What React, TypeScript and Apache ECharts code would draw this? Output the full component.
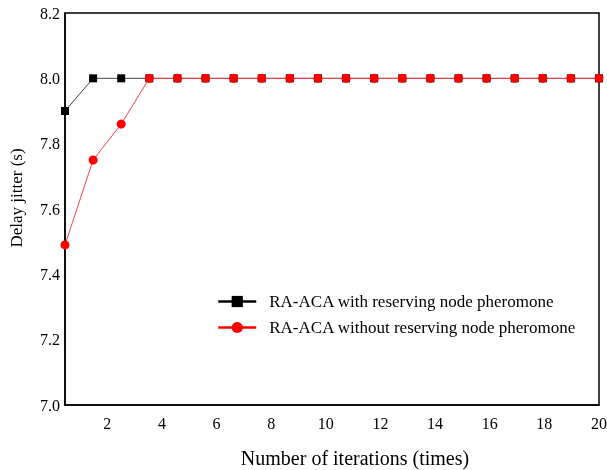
import React, { useEffect, useRef } from "react";
import * as echarts from "echarts";

const iterations = ["1","2","3","4","5","6","7","8","9","10","11","12","13","14","15","16","17","18","19","20"];
const withReserving = [7.9, 8.0, 8.0, 8.0, 8.0, 8.0, 8.0, 8.0, 8.0, 8.0, 8.0, 8.0, 8.0, 8.0, 8.0, 8.0, 8.0, 8.0, 8.0, 8.0];
const withoutReserving = [7.49, 7.75, 7.86, 8.0, 8.0, 8.0, 8.0, 8.0, 8.0, 8.0, 8.0, 8.0, 8.0, 8.0, 8.0, 8.0, 8.0, 8.0, 8.0, 8.0];
const xTickLabels = [2, 4, 6, 8, 10, 12, 14, 16, 18, 20];
const seriesNames = ["RA-ACA with reserving node pheromone", "RA-ACA without reserving node pheromone"];

const FONT = "Liberation Serif";

export default function App() {
  const ref = useRef<HTMLDivElement>(null);
  useEffect(() => {
    if (!ref.current) return;
    const chart = echarts.init(ref.current, null, { renderer: "svg" });
    chart.setOption({
      animation: false,
      grid: {
        left: 65,
        top: 13,
        right: 8,
        bottom: 65,
        outerBoundsMode: "none",
        containLabel: false,
        show: true,
        borderColor: "#000",
        borderWidth: 1.5,
      },
      legend: {
        data: [
          { name: seriesNames[0], lineStyle: { width: 2.5, color: "#000" } },
          { name: seriesNames[1], lineStyle: { width: 2.5, color: "#ff0000" } },
        ],
        orient: "vertical",
        left: 217,
        top: 293,
        padding: 0,
        itemWidth: 38,
        itemHeight: 14,
        itemGap: 9,
        textStyle: { fontFamily: FONT, fontSize: 17, color: "#000", padding: [0, 0, 0, 8] },
      },
      xAxis: [
        {
          type: "category",
          data: iterations,
          boundaryGap: false,
          show: false,
        },
        {
          type: "value",
          min: 0.45,
          max: 20,
          position: "bottom",
          axisLine: { show: true, lineStyle: { color: "#000", width: 1.5 } },
          axisTick: { show: false },
          splitLine: { show: false },
          axisLabel: {
            customValues: xTickLabels,
            fontFamily: FONT,
            fontSize: 16,
            color: "#000",
            margin: 10,
          },
          name: "Number of iterations (times)",
          nameLocation: "middle",
          nameGap: 43,
          nameTextStyle: {
            fontFamily: FONT,
            fontSize: 20,
            lineHeight: 20,
            color: "#000",
            padding: [0, 0, 0, 46],
          },
        },
      ],
      yAxis: {
        type: "value",
        min: 7.0,
        max: 8.2,
        interval: 0.2,
        axisLine: { show: true, lineStyle: { color: "#000", width: 1.5 } },
        axisTick: { show: false },
        splitLine: { show: false },
        axisLabel: {
          fontFamily: FONT,
          fontSize: 16,
          color: "#000",
          margin: 5,
          formatter: (v: number) => v.toFixed(1),
        },
        name: "Delay jitter (s)",
        nameLocation: "middle",
        nameGap: 40,
        nameTextStyle: { fontFamily: FONT, fontSize: 17, color: "#000", padding: [0, 0, 0, 22] },
      },
      series: [
        {
          name: seriesNames[0],
          type: "line",
          xAxisIndex: 0,
          data: withReserving,
          symbol: "rect",
          symbolSize: 8,
          itemStyle: { color: "#000" },
          lineStyle: { color: "#444", width: 1 },
          z: 2,
        },
        {
          name: seriesNames[1],
          type: "line",
          xAxisIndex: 0,
          data: withoutReserving,
          symbol: "circle",
          symbolSize: 9,
          itemStyle: { color: "#ff0000" },
          lineStyle: { color: "#ff4040", width: 1 },
          z: 3,
        },
      ],
    });
    return () => chart.dispose();
  }, []);
  return (
    <div
      ref={ref}
      style={{ position: "fixed", left: 0, top: 0, width: 607, height: 470 }}
    />
  );
}
